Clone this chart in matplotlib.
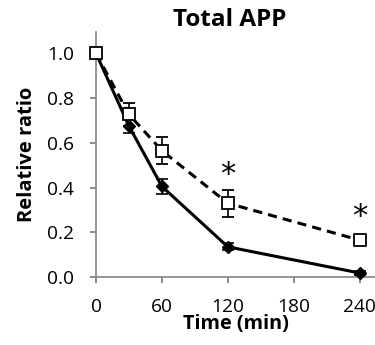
import matplotlib
matplotlib.use('Agg')
import matplotlib.pyplot as plt

# data
time_min = [0, 30, 60, 120, 240]
solid_vals = [1.0, 0.675, 0.405, 0.135, 0.018]
solid_err = [0.0, 0.03, 0.035, 0.015, 0.01]
dashed_vals = [1.0, 0.727, 0.565, 0.33, 0.165]
dashed_err = [0.0, 0.05, 0.06, 0.06, 0.01]
x_ticks = [0, 60, 120, 180, 240]
y_ticks = [0.0, 0.2, 0.4, 0.6, 0.8, 1.0]
star_times = [120, 240]
star_heights = [0.46, 0.27]

plt.rcParams['font.family'] = ['Open Sans', 'DejaVu Sans']

fig = plt.figure(figsize=(3.75, 3.45), dpi=100)
ax = fig.add_axes([0.256, 0.197, 0.744, 0.71])

ax.errorbar(time_min, solid_vals, yerr=solid_err, color='black', lw=2.2,
            marker='D', markersize=6.5, mfc='black', mec='black',
            capsize=4, elinewidth=1.2, capthick=1.2, clip_on=False, zorder=3)
ax.errorbar(time_min, dashed_vals, yerr=dashed_err, color='black', lw=2.2,
            ls=(0, (3, 2)), marker='s', markersize=8.5, mfc='white',
            mec='black', mew=1.3, capsize=4, elinewidth=1.2, capthick=1.2,
            clip_on=False, zorder=4)

for t, h in zip(star_times, star_heights):
    ax.text(t, h, '*', ha='center', va='center', fontsize=22,
            family=['DejaVu Sans'])

ax.set_xlim(0, 254)
ax.set_ylim(0, 1.095)
ax.set_xticks(x_ticks)
ax.set_yticks(y_ticks)
ax.set_yticklabels([f'{v:.1f}' for v in y_ticks])
ax.tick_params(axis='both', labelsize=13.8, colors='#808080',
               labelcolor='black', length=4, width=1.3, direction='out')
ax.tick_params(axis='x', pad=11)
ax.tick_params(axis='y', pad=12)

for side in ['top', 'right']:
    ax.spines[side].set_visible(False)
for side in ['left', 'bottom']:
    ax.spines[side].set_color('#8c8c8c')
    ax.spines[side].set_linewidth(1.3)

ax.set_title('Total APP', fontsize=17.5, fontweight='bold', pad=4, x=0.48)
ax.set_xlabel('Time (min)', fontsize=14.3, fontweight='bold', labelpad=-1)
ax.set_ylabel('Relative ratio', fontsize=14.5, fontweight='bold', labelpad=7)

fig.savefig('out.png', dpi=100)
